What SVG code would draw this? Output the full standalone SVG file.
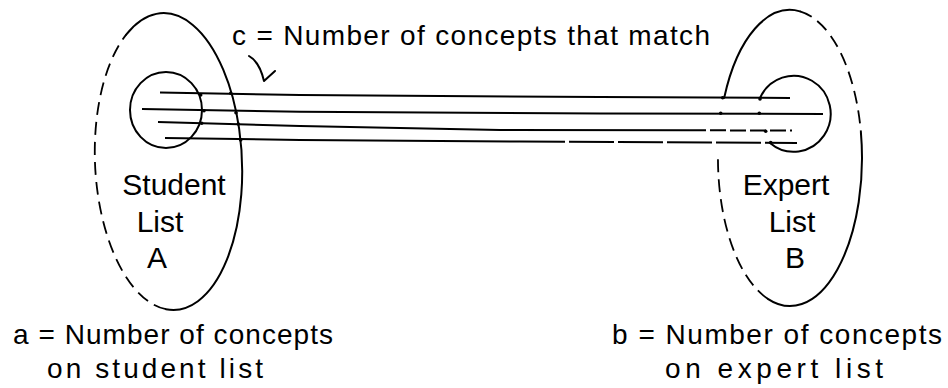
<svg xmlns="http://www.w3.org/2000/svg" width="948" height="388" viewBox="0 0 948 388">
<style>
.s{fill:none;stroke:#000;stroke-width:2;stroke-linecap:round;stroke-linejoin:round}
.d{fill:none;stroke:#000;stroke-width:1.8;stroke-dasharray:13 7}
.ln{fill:none;stroke:#000;stroke-width:2}
.t{font-family:"Liberation Sans",Arial,Helvetica,sans-serif;fill:#000}
.lab{font-size:30px;text-anchor:middle}
.cap{font-size:28px}
.dot{fill:#000}
</style>
<rect width="948" height="388" fill="#fff"/>
<g id="student-list">
  <g transform="rotate(-2.5 168.5 161.5)">
    <path class="s" d="M131.75,32.9 A73.5,148.5 0 1 1 159.5,308.9"/>
    <path class="d" d="M159.5,308.9 A73.5,148.5 0 0 1 131.75,32.9"/>
  </g>
  <ellipse class="s" cx="166" cy="110" rx="36" ry="38"/>
  <text class="t lab" x="174" y="195">Student</text>
  <text class="t lab" x="160" y="232">List</text>
  <text class="t lab" x="157" y="268">A</text>
</g>
<g id="expert-list">
  <path class="s" d="M724.2,97.8 A72,148 0 0 1 800,11.4"/>
  <path class="d" d="M800,11.4 A72,148 0 0 1 860.9,132.3"/>
  <path class="s" d="M860.9,132.3 A72,148 0 0 1 767.8,298.8"/>
  <path class="d" d="M767.8,298.8 A72,148 0 0 1 718,152.8"/>
  <path class="s" d="M760,98 A37,38 0 1 1 770,143"/>
  <text class="t lab" x="786" y="195">Expert</text>
  <text class="t lab" x="792" y="232">List</text>
  <text class="t lab" x="795" y="268">B</text>
</g>
<g id="connectors">
  <polyline class="ln" points="160,92.5 300,95 600,97 790,98"/>
  <polyline class="ln" points="142,109 300,111.7 600,113.5 823,114"/>
  <polyline class="ln" points="158,122 300,126 500,130 690,130.3"/>
  <polyline class="ln" points="690,130.3 792,130.5" stroke-dasharray="16 4"/>
  <polyline class="ln" points="165,138 300,140 520,141.5"/>
  <polyline class="ln" points="520,141.5 797,143" stroke-dasharray="45 4"/>
  <g class="dot">
    <circle cx="200.7" cy="95" r="1.8"/>
    <circle cx="204" cy="110.7" r="1.8"/>
    <circle cx="201.7" cy="123.3" r="1.8"/>
    <circle cx="230.7" cy="93.3" r="1.8"/>
    <circle cx="236" cy="112.7" r="1.8"/>
    <circle cx="238.3" cy="124" r="1.8"/>
    <circle cx="240.7" cy="140" r="1.8"/>
    <circle cx="722.7" cy="97.7" r="1.8"/>
    <circle cx="720.7" cy="113.3" r="1.8"/>
    <circle cx="760" cy="99" r="1.8"/>
    <circle cx="759.3" cy="113.3" r="1.8"/>
    <circle cx="765.7" cy="131.2" r="1.8"/>
    <circle cx="770.7" cy="142.5" r="1.8"/>
  </g>
  <path class="s" d="M249,56 C256,60 261,68 264,81 L275,71"/>
</g>
<g id="labels">
  <text class="t" x="232" y="45" font-size="28" textLength="478">c = Number of concepts that match</text>
  <text class="t cap" x="13" y="344" textLength="320">a = Number of concepts</text>
  <text class="t cap" x="47" y="378" textLength="216">on student list</text>
  <text class="t cap" x="612" y="344" textLength="330">b = Number of concepts</text>
  <text class="t cap" x="665" y="378" textLength="218">on expert list</text>
</g>
</svg>
